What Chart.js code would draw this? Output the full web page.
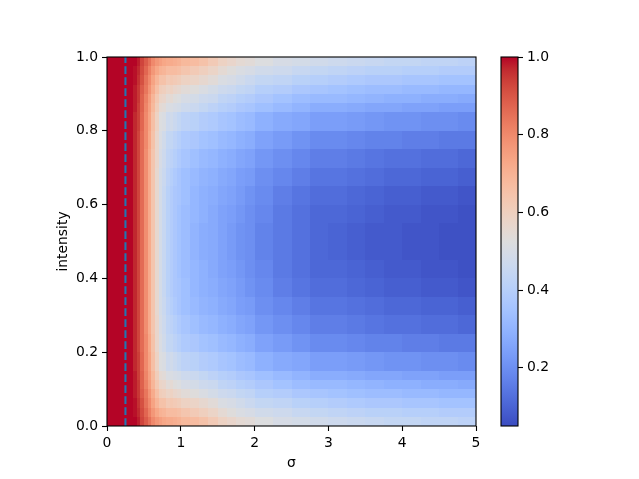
<!DOCTYPE html>
<html>
<head>
<meta charset="utf-8">
<script src="https://cdn.jsdelivr.net/npm/chart.js@4.4.1/dist/chart.umd.min.js"></script>
<style>
  html, body { margin: 0; padding: 0; background: #fff; }
  #wrap { position: relative; width: 639px; height: 479px; }
  #main { position: absolute; left: 0; top: 0; }
  #cbar { position: absolute; left: 490px; top: 0; }
</style>
</head>
<body>
<div id="wrap">
  <canvas id="main" width="639" height="479"></canvas>
  <canvas id="cbar" width="149" height="479"></canvas>
</div>
<script>
// ── data ──
// cell edges along σ and intensity
const sigmaEdges = [0, 0.35, 0.4, 0.45, 0.5, 0.55, 0.6, 0.65, 0.7, 0.75, 0.8, 0.85, 0.9, 0.95, 1.0,
                    1.125, 1.25, 1.375, 1.5, 1.625, 1.75, 1.875, 2.0,
                    2.25, 2.5, 2.75, 3.0, 3.25, 3.5, 3.75, 4.0, 4.25, 4.5, 4.75, 5.0];
const intensityEdges = [0, 0.025, 0.05, 0.075, 0.1, 0.125, 0.15, 0.2, 0.25, 0.3, 0.35, 0.4, 0.45, 0.5,
                        0.55, 0.6, 0.65, 0.7, 0.75, 0.8, 0.85, 0.875, 0.9, 0.925, 0.95, 0.975, 1.0];
// one entry per σ cell, values from intensity 0 up to 1
const zBySigma = [
  [1.00,1.00,1.00,1.00,1.00,1.00,1.00,1.00,1.00,1.00,1.00,1.00,1.00,1.00,1.00,1.00,1.00,1.00,1.00,1.00,1.00,1.00,1.00,1.00,1.00,1.00],
  [1.00,0.99,0.99,0.98,0.98,0.98,0.97,0.97,0.97,0.97,0.97,0.97,0.97,0.97,0.97,0.97,0.97,0.97,0.97,0.97,0.98,0.98,0.98,0.99,0.99,1.00],
  [0.98,0.97,0.96,0.95,0.95,0.94,0.94,0.93,0.93,0.93,0.93,0.93,0.93,0.93,0.93,0.93,0.93,0.93,0.93,0.94,0.94,0.95,0.95,0.96,0.97,0.98],
  [0.93,0.92,0.91,0.89,0.88,0.88,0.87,0.86,0.86,0.86,0.86,0.86,0.86,0.86,0.86,0.86,0.86,0.86,0.86,0.87,0.88,0.88,0.89,0.91,0.92,0.93],
  [0.89,0.87,0.85,0.84,0.82,0.81,0.80,0.80,0.79,0.79,0.79,0.79,0.79,0.79,0.79,0.79,0.79,0.79,0.80,0.80,0.81,0.82,0.84,0.85,0.87,0.89],
  [0.85,0.82,0.80,0.78,0.76,0.75,0.74,0.73,0.72,0.72,0.72,0.72,0.72,0.72,0.72,0.72,0.72,0.72,0.73,0.74,0.75,0.76,0.78,0.80,0.82,0.85],
  [0.80,0.77,0.74,0.72,0.69,0.68,0.66,0.65,0.64,0.64,0.64,0.64,0.64,0.64,0.64,0.64,0.64,0.64,0.65,0.66,0.68,0.69,0.72,0.74,0.77,0.80],
  [0.77,0.73,0.69,0.66,0.63,0.61,0.59,0.57,0.57,0.56,0.56,0.56,0.56,0.56,0.56,0.56,0.56,0.57,0.57,0.59,0.61,0.63,0.66,0.69,0.73,0.77],
  [0.75,0.70,0.65,0.61,0.58,0.55,0.52,0.51,0.50,0.49,0.49,0.49,0.49,0.49,0.49,0.49,0.49,0.50,0.51,0.52,0.55,0.58,0.61,0.65,0.70,0.75],
  [0.73,0.69,0.65,0.60,0.57,0.54,0.51,0.48,0.47,0.46,0.45,0.45,0.45,0.45,0.45,0.45,0.46,0.47,0.48,0.51,0.54,0.57,0.60,0.65,0.69,0.73],
  [0.72,0.67,0.62,0.58,0.54,0.51,0.47,0.44,0.43,0.42,0.41,0.41,0.41,0.41,0.41,0.41,0.42,0.43,0.44,0.47,0.51,0.54,0.58,0.62,0.67,0.72],
  [0.72,0.67,0.63,0.59,0.55,0.51,0.48,0.44,0.42,0.40,0.39,0.39,0.39,0.39,0.39,0.39,0.40,0.42,0.44,0.48,0.51,0.55,0.59,0.63,0.67,0.72],
  [0.71,0.67,0.62,0.57,0.53,0.50,0.46,0.42,0.40,0.38,0.37,0.37,0.37,0.37,0.37,0.37,0.38,0.40,0.42,0.46,0.50,0.53,0.57,0.62,0.67,0.71],
  [0.70,0.66,0.61,0.56,0.52,0.49,0.44,0.40,0.38,0.36,0.36,0.35,0.35,0.35,0.35,0.36,0.36,0.38,0.40,0.44,0.49,0.52,0.56,0.61,0.66,0.70],
  [0.68,0.64,0.59,0.54,0.50,0.47,0.42,0.38,0.36,0.34,0.34,0.33,0.33,0.33,0.33,0.34,0.34,0.36,0.38,0.42,0.47,0.50,0.54,0.59,0.64,0.68],
  [0.67,0.62,0.58,0.53,0.49,0.46,0.41,0.37,0.34,0.32,0.31,0.31,0.30,0.30,0.31,0.31,0.32,0.34,0.37,0.41,0.46,0.49,0.53,0.58,0.62,0.67],
  [0.65,0.60,0.56,0.51,0.47,0.44,0.39,0.35,0.32,0.30,0.29,0.29,0.28,0.28,0.29,0.29,0.30,0.32,0.35,0.39,0.44,0.47,0.51,0.56,0.60,0.65],
  [0.62,0.58,0.54,0.49,0.46,0.42,0.38,0.34,0.31,0.29,0.28,0.27,0.27,0.27,0.27,0.28,0.29,0.31,0.34,0.38,0.42,0.46,0.49,0.54,0.58,0.62],
  [0.59,0.55,0.51,0.47,0.43,0.40,0.36,0.32,0.29,0.27,0.26,0.25,0.25,0.25,0.25,0.26,0.27,0.29,0.32,0.36,0.40,0.43,0.47,0.51,0.55,0.59],
  [0.57,0.53,0.50,0.46,0.42,0.39,0.35,0.31,0.28,0.26,0.25,0.24,0.23,0.23,0.24,0.25,0.26,0.28,0.31,0.35,0.39,0.42,0.46,0.50,0.53,0.57],
  [0.55,0.51,0.48,0.44,0.40,0.37,0.33,0.29,0.26,0.24,0.23,0.22,0.21,0.21,0.22,0.23,0.24,0.26,0.29,0.33,0.37,0.40,0.44,0.48,0.51,0.55],
  [0.54,0.50,0.46,0.43,0.39,0.36,0.32,0.28,0.25,0.23,0.21,0.20,0.20,0.20,0.20,0.21,0.23,0.25,0.28,0.32,0.36,0.39,0.43,0.46,0.50,0.54],
  [0.52,0.48,0.44,0.40,0.37,0.34,0.29,0.25,0.22,0.20,0.19,0.18,0.17,0.17,0.18,0.19,0.20,0.22,0.25,0.29,0.34,0.37,0.40,0.44,0.48,0.52],
  [0.50,0.47,0.43,0.39,0.35,0.32,0.27,0.23,0.20,0.18,0.16,0.15,0.15,0.15,0.15,0.16,0.18,0.20,0.23,0.27,0.32,0.35,0.39,0.43,0.47,0.50],
  [0.49,0.45,0.41,0.37,0.33,0.30,0.26,0.21,0.18,0.16,0.14,0.13,0.13,0.13,0.13,0.14,0.16,0.18,0.21,0.26,0.30,0.33,0.37,0.41,0.45,0.49],
  [0.48,0.44,0.40,0.36,0.32,0.28,0.24,0.19,0.16,0.14,0.12,0.11,0.11,0.11,0.11,0.12,0.14,0.16,0.19,0.24,0.28,0.32,0.36,0.40,0.44,0.48],
  [0.47,0.43,0.39,0.35,0.32,0.28,0.24,0.19,0.16,0.14,0.12,0.11,0.10,0.10,0.11,0.12,0.14,0.16,0.19,0.24,0.28,0.32,0.35,0.39,0.43,0.47],
  [0.46,0.42,0.38,0.34,0.31,0.27,0.23,0.18,0.15,0.13,0.11,0.10,0.09,0.09,0.10,0.11,0.13,0.15,0.18,0.23,0.27,0.31,0.34,0.38,0.42,0.46],
  [0.45,0.41,0.37,0.33,0.30,0.26,0.22,0.17,0.14,0.12,0.10,0.09,0.08,0.08,0.09,0.10,0.12,0.14,0.17,0.22,0.26,0.30,0.33,0.37,0.41,0.45],
  [0.44,0.41,0.37,0.33,0.29,0.26,0.21,0.17,0.13,0.11,0.09,0.08,0.08,0.08,0.08,0.09,0.11,0.13,0.17,0.21,0.26,0.29,0.33,0.37,0.41,0.44],
  [0.44,0.40,0.36,0.32,0.29,0.25,0.21,0.16,0.13,0.11,0.09,0.08,0.07,0.07,0.08,0.09,0.11,0.13,0.16,0.21,0.25,0.29,0.32,0.36,0.40,0.44],
  [0.43,0.40,0.36,0.32,0.28,0.25,0.20,0.16,0.12,0.10,0.08,0.07,0.07,0.07,0.07,0.08,0.10,0.12,0.16,0.20,0.25,0.28,0.32,0.36,0.40,0.43],
  [0.43,0.39,0.35,0.31,0.28,0.24,0.20,0.15,0.12,0.10,0.08,0.07,0.06,0.06,0.07,0.08,0.10,0.12,0.15,0.20,0.24,0.28,0.31,0.35,0.39,0.43],
  [0.42,0.39,0.35,0.31,0.27,0.24,0.19,0.15,0.11,0.09,0.07,0.06,0.06,0.06,0.06,0.07,0.09,0.11,0.15,0.19,0.24,0.27,0.31,0.35,0.39,0.42],
];
const lineSigma = 0.25;          // dashed marker
const xTicks = [0, 1, 2, 3, 4, 5];
const yTicks = [0, 0.2, 0.4, 0.6, 0.8, 1.0];
const colorTicks = [0.2, 0.4, 0.6, 0.8, 1.0];
const colorMin = 0.05, colorMax = 1.0;

// ── coolwarm colormap ──
const COOLWARM = [
  [59,76,192],[68,90,204],[77,104,215],[87,117,225],[98,130,234],[108,142,241],[119,154,247],[130,165,251],
  [141,176,254],[152,185,255],[163,194,255],[174,201,253],[184,208,249],[194,213,244],[204,217,238],[213,219,230],
  [221,221,221],[229,216,209],[236,211,197],[241,204,184],[245,196,172],[247,187,159],[247,177,147],[247,166,134],
  [244,154,123],[241,141,111],[236,127,99],[229,112,88],[222,96,77],[213,80,66],[203,62,56],[192,40,47],[180,4,38]
];
function coolwarm(t) {
  t = Math.max(0, Math.min(1, t));
  const f = t * (COOLWARM.length - 1);
  const i = Math.min(Math.floor(f), COOLWARM.length - 2);
  const r = f - i, a = COOLWARM[i], b = COOLWARM[i + 1];
  const c = k => Math.round(a[k] + (b[k] - a[k]) * r);
  return `rgb(${c(0)},${c(1)},${c(2)})`;
}

const font = { family: "'DejaVu Sans', sans-serif", size: 13.9 };
const tickGrid = { drawOnChartArea: false, drawTicks: true, tickLength: 5, tickWidth: 1.1, tickColor: '#000' };

// ── heatmap cells + frame ──
const heatmap = {
  id: 'heatmap',
  beforeDatasetsDraw(chart) {
    const { ctx, scales: { x, y } } = chart;
    ctx.save();
    for (let i = 0; i < zBySigma.length; i++) {
      const x0 = Math.round(x.getPixelForValue(sigmaEdges[i]));
      const x1 = Math.round(x.getPixelForValue(sigmaEdges[i + 1]));
      const col = zBySigma[i];
      for (let j = 0; j < col.length; j++) {
        const y0 = Math.round(y.getPixelForValue(intensityEdges[j]));
        const y1 = Math.round(y.getPixelForValue(intensityEdges[j + 1]));
        ctx.fillStyle = coolwarm((col[j] - colorMin) / (colorMax - colorMin));
        ctx.fillRect(x0, y1, x1 - x0, y0 - y1);
      }
    }
    ctx.restore();
  },
  afterDatasetsDraw(chart) {
    const { ctx, chartArea: a } = chart;
    ctx.save();
    ctx.strokeStyle = '#000'; ctx.lineWidth = 1.1;
    ctx.strokeRect(a.left, a.top, a.right - a.left, a.bottom - a.top);
    ctx.restore();
  }
};

new Chart(document.getElementById('main'), {
  type: 'scatter',
  data: { datasets: [{
    data: [{ x: lineSigma, y: 0 }, { x: lineSigma, y: 1 }],
    showLine: true, borderColor: '#1f77b4', borderWidth: 2.08, borderDash: [7.7, 3.3],
    pointRadius: 0, fill: false
  }]},
  options: {
    responsive: false, animation: false, devicePixelRatio: 1,
    layout: { padding: { left: 51, top: 57, right: 163, bottom: 3 } },
    plugins: { legend: { display: false }, tooltip: { enabled: false } },
    scales: {
      x: {
        type: 'linear', min: 0, max: 5,
        afterBuildTicks: s => { s.ticks = xTicks.map(v => ({ value: v })); },
        afterFit: s => { s.height = 50; },
        grid: tickGrid, border: { display: false },
        ticks: { color: '#000', font, padding: 4, maxRotation: 0, callback: v => String(v) },
        title: { display: true, text: 'σ', color: '#000', font, padding: { top: 4, bottom: 4 } }
      },
      y: {
        type: 'linear', min: 0, max: 1,
        afterBuildTicks: s => { s.ticks = yTicks.map(v => ({ value: v })); },
        afterFit: s => { s.width = 56; },
        grid: tickGrid, border: { display: false },
        ticks: { color: '#000', font, padding: 4, callback: v => v.toFixed(1) },
        title: { display: true, text: 'intensity', color: '#000', font, padding: { top: 4, bottom: 4 } }
      }
    }
  },
  plugins: [heatmap]
});

// ── colorbar ──
const colorbar = {
  id: 'colorbar',
  beforeDatasetsDraw(chart) {
    const { ctx, chartArea: a, scales: { y } } = chart;
    const g = ctx.createLinearGradient(0, y.getPixelForValue(colorMin), 0, y.getPixelForValue(colorMax));
    COOLWARM.forEach((c, i) => g.addColorStop(i / (COOLWARM.length - 1), `rgb(${c[0]},${c[1]},${c[2]})`));
    ctx.save();
    ctx.fillStyle = g;
    ctx.fillRect(a.left, a.top, a.right - a.left, a.bottom - a.top);
    ctx.strokeStyle = '#000'; ctx.lineWidth = 1.1;
    ctx.strokeRect(a.left, a.top, a.right - a.left, a.bottom - a.top);
    ctx.restore();
  }
};

new Chart(document.getElementById('cbar'), {
  type: 'scatter',
  data: { datasets: [] },
  options: {
    responsive: false, animation: false, devicePixelRatio: 1,
    layout: { padding: { left: 11, top: 57, right: 0, bottom: 53 } },
    plugins: { legend: { display: false }, tooltip: { enabled: false } },
    scales: {
      x: { display: false, min: 0, max: 1 },
      y: {
        position: 'right', min: colorMin, max: colorMax,
        afterBuildTicks: s => { s.ticks = colorTicks.map(v => ({ value: v })); },
        afterFit: s => { s.width = 121; },
        grid: tickGrid, border: { display: false },
        ticks: { color: '#000', font, padding: 4, callback: v => v.toFixed(1) }
      }
    }
  },
  plugins: [colorbar]
});
</script>
</body>
</html>
